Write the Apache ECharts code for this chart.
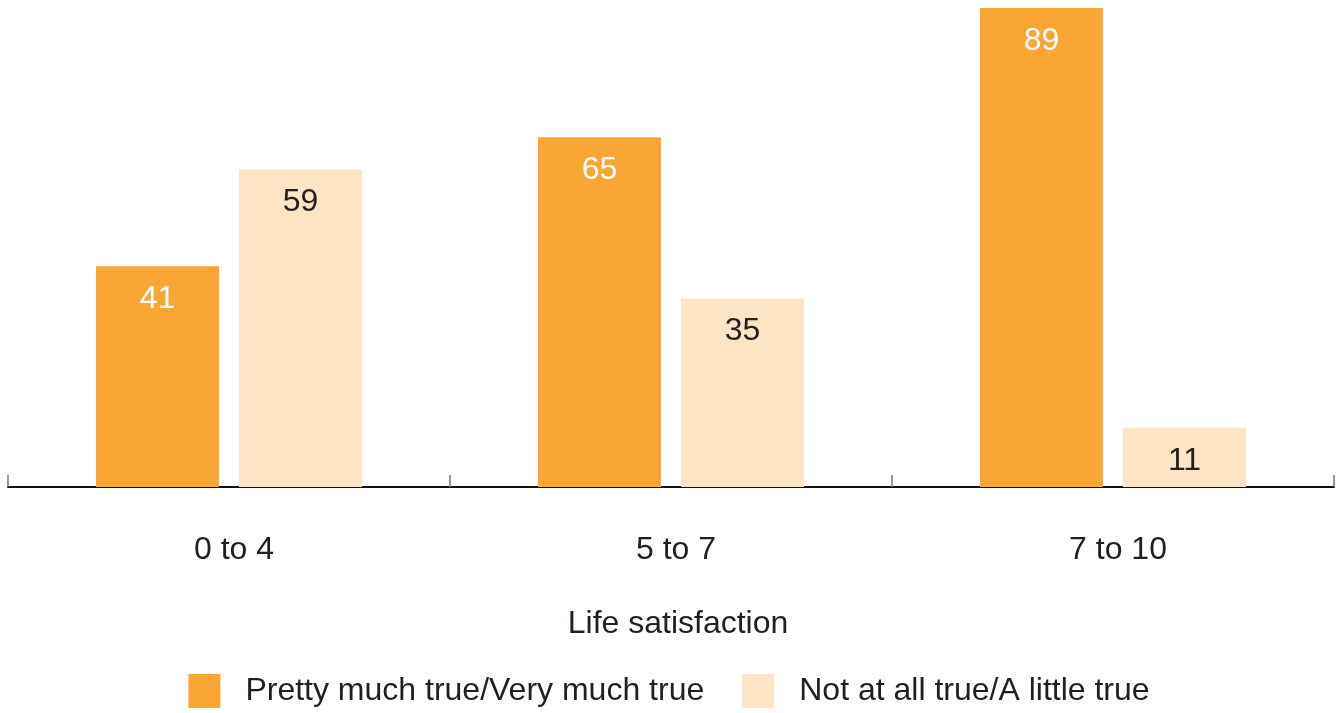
<!DOCTYPE html>
<html>
<head>
<meta charset="utf-8">
<script src="https://cdn.jsdelivr.net/npm/echarts@6/dist/echarts.min.js"></script>
<style>html,body{margin:0;padding:0;background:#fff}#c{width:1338px;height:713px}</style>
</head>
<body>
<div id="c"></div>
<script>
const categories = ['0 to 4', '5 to 7', '7 to 10'];
const seriesNames = ['Pretty much true/Very much true', 'Not at all true/A little true'];
const pretty = [41, 65, 89];
const notAll = [59, 35, 11];
const axisTitle = 'Life satisfaction';

const FONT = 'Liberation Sans, Arial, sans-serif';
const FS = 32;
const chart = echarts.init(document.getElementById('c'));
chart.setOption({
  animation: false,
  grid: { left: 8, right: 4, top: 8, bottom: 226, containLabel: false },
  legend: {
    data: seriesNames,
    top: 674,
    left: 'center',
    padding: 0,
    itemWidth: 32,
    itemHeight: 34,
    itemGap: 38,
    icon: 'rect',
    textStyle: { fontFamily: FONT, fontSize: FS, color: '#231F20', padding: [5, 0, 0, 20] }
  },
  xAxis: {
    type: 'category',
    data: categories,
    name: axisTitle,
    nameLocation: 'middle',
    nameGap: 121,
    nameTextStyle: { fontFamily: FONT, fontSize: FS, color: '#231F20', padding: [0, 0, 0, 14] },
    axisLine: { lineStyle: { color: '#111', width: 2 } },
    axisTick: { show: true, inside: true, length: 12, lineStyle: { color: '#777', width: 1.5 } },
    axisLabel: { fontFamily: FONT, fontSize: FS, color: '#231F20', margin: 47, padding: [0, 0, 0, 10] }
  },
  yAxis: {
    type: 'value', min: 0, max: 89,
    show: false,
    splitLine: { show: false }
  },
  series: [
    {
      name: seriesNames[0], type: 'bar', data: pretty,
      barWidth: 123, barGap: '16.3%',
      itemStyle: { color: '#F9A634' },
      label: { show: true, position: 'insideTop', distance: 17, fontFamily: FONT, fontSize: FS, color: '#fff' }
    },
    {
      name: seriesNames[1], type: 'bar', data: notAll,
      barWidth: 123,
      itemStyle: { color: '#FDE4C4' },
      label: { show: true, position: 'insideTop', distance: 17, fontFamily: FONT, fontSize: FS, color: '#231F20' }
    }
  ]
});
</script>
</body>
</html>
